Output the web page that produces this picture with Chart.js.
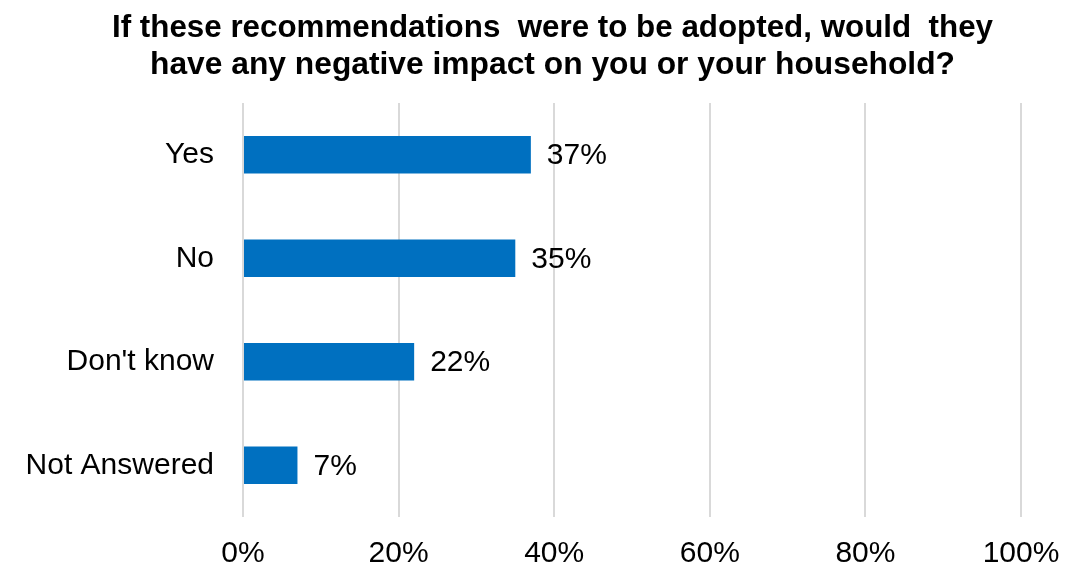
<!DOCTYPE html>
<html>
<head>
<meta charset="utf-8">
<script src="https://cdn.jsdelivr.net/npm/chart.js@4.4.1/dist/chart.umd.min.js"></script>
<style>
  html, body { margin: 0; padding: 0; background: #fff; }
  #wrap { width: 1066px; height: 568px; }
</style>
</head>
<body>
<div id="wrap"><canvas id="impactChart" width="1066" height="568"></canvas></div>
<script>
// Respuestas a la pregunta
const categories = ['Yes', 'No', "Don't know", 'Not Answered'];
const percentages = [37, 35, 22, 7];
const tickLabels = ['0%', '20%', '40%', '60%', '80%', '100%'];
const titleLines = [
    'If these recommendations  were to be adopted, would  they',
    'have any negative impact on you or your household?'
];

const FONT = '"Liberation Sans", Arial, sans-serif';

// Titulo en negrita, algo estrecho
const titlePlugin = {
    id: 'narrowTitle',
    afterDraw(chart) {
        const ctx = chart.ctx;
        const widths = [881, 805];
        const baselines = [37, 74];
        ctx.save();
        ctx.font = 'bold 31px ' + FONT;
        ctx.fillStyle = '#000';
        ctx.textBaseline = 'alphabetic';
        ctx.textAlign = 'center';
        titleLines.forEach((line, i) => {
            const w = ctx.measureText(line).width;
            const sx = widths[i] / w;
            ctx.save();
            ctx.translate(552.5, baselines[i]);
            ctx.scale(sx, 1);
            ctx.fillText(line, 0, 0);
            ctx.restore();
        });
        ctx.restore();
    }
};

// Etiquetas de porcentaje al final de cada barra
const valueLabels = {
    id: 'valueLabels',
    afterDatasetsDraw(chart) {
        const ctx = chart.ctx;
        const meta = chart.getDatasetMeta(0);
        ctx.save();
        ctx.font = '30px ' + FONT;
        ctx.fillStyle = '#000';
        ctx.textAlign = 'left';
        ctx.textBaseline = 'middle';
        meta.data.forEach((bar, i) => {
            ctx.fillText(percentages[i] + '%', bar.x + 16, bar.y + 1);
        });
        ctx.restore();
    }
};

new Chart(document.getElementById('impactChart'), {
    type: 'bar',
    data: {
        labels: categories,
        datasets: [{
            data: percentages,
            backgroundColor: '#0070C0',
            borderWidth: 0,
            barPercentage: 0.72,
            categoryPercentage: 0.5
        }]
    },
    options: {
        indexAxis: 'y',
        responsive: false,
        animation: false,
        layout: { padding: { top: 103, right: 45, bottom: 0, left: 0 } },
        plugins: {
            legend: { display: false },
            title: { display: false },
            tooltip: { enabled: false }
        },
        scales: {
            x: {
                min: 0,
                max: 100,
                border: { display: false },
                grid: { color: '#d9d9d9', lineWidth: 2, drawTicks: false },
                ticks: {
                    stepSize: 20,
                    padding: 19,
                    color: '#000',
                    font: { family: FONT, size: 30 },
                    callback: (v, i) => tickLabels[i]
                },
                afterFit(scale) {
                    scale.height = 51;
                    scale.paddingLeft = 0;
                    scale.paddingRight = 0;
                }
            },
            y: {
                border: { display: false },
                grid: { display: false, drawTicks: false },
                ticks: {
                    padding: 29,
                    color: '#000',
                    font: { family: FONT, size: 30 }
                },
                afterFit(scale) { scale.width = 243; }
            }
        }
    },
    plugins: [titlePlugin, valueLabels]
});
</script>
</body>
</html>
